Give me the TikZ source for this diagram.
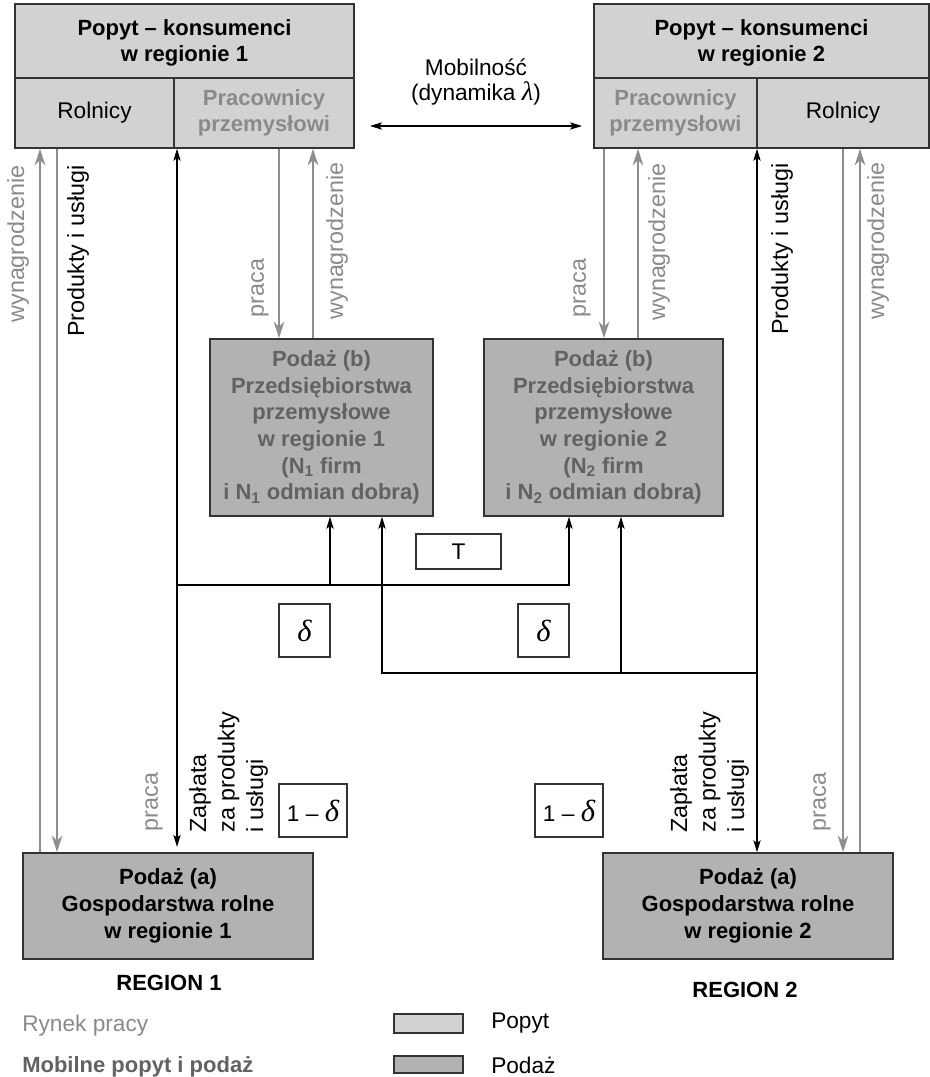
\documentclass[tikz,border=0pt]{standalone}
\usepackage{fontspec}
\setmainfont{Liberation Sans}
\newfontfamily\grkfont{Liberation Serif}
\usetikzlibrary{arrows.meta}
\definecolor{popytfill}{HTML}{D1D2D4}
\definecolor{podazfill}{HTML}{B1B2B4}
\definecolor{boxline}{HTML}{333333}
\definecolor{lgray}{HTML}{8A8A8A}
\definecolor{dgray}{HTML}{626264}
\definecolor{agray}{HTML}{8E8E8E}
\newcommand{\mydelta}{{\grkfont\itshape\fontsize{23}{23}\selectfont δ}}
\begin{document}
\begin{tikzpicture}[x=0.75pt,y=-0.75pt,
  popybox/.style={draw=boxline, fill=popytfill, line width=1.2pt, inner sep=0pt},
  podbox/.style={draw=boxline, fill=podazfill, line width=1.2pt, inner sep=0pt, font=\bfseries\fontsize{16.5}{20}\selectfont, align=center},
  smallbox/.style={draw=boxline, fill=white, line width=0.9pt, inner sep=0pt, font=\fontsize{17}{20}\selectfont},
  legbox/.style={draw=boxline, line width=0.9pt, inner sep=0pt, minimum width=51.75pt},
  txt/.style={inner sep=0pt, font=\fontsize{17}{19}\selectfont, align=center},
  btxt/.style={inner sep=0pt, font=\bfseries\fontsize{16.5}{19.5}\selectfont, align=center},
  vlab/.style={inner sep=0pt, rotate=90, font=\fontsize{17.5}{21.4}\selectfont},
  divider/.style={draw=boxline, line width=1.2pt},
  blk/.style={draw=black, line width=0.8pt},
  blkarrow/.style={blk, -{Stealth[length=9pt,width=5.5pt,inset=2pt]}},
  blkboth/.style={blk, {Stealth[length=9pt,width=5.5pt,inset=2pt]}-{Stealth[length=9pt,width=5.5pt,inset=2pt]}},
  garrow/.style={draw=agray, line width=1.3pt, -{Stealth[length=12.5pt,width=8pt,inset=4pt]}},
]
\useasboundingbox (0,0) rectangle (930,1077);

% top boxes
\node[popybox, minimum width=254.25pt, minimum height=108pt] (top1) at (184.5,76) {};
\draw[divider] (top1.west |- 0,78) -- (top1.east |- 0,78);
\draw[divider] (174,0 |- top1.south) -- (174,78);
\node[btxt] (t1title) at (184.5,43) {Popyt – konsumenci\\w regionie 1};
\node[txt] (t1rol) at (94.5,113) {Rolnicy};
\node[btxt, text=lgray] (t1prac) at (264,113) {Pracownicy\\przemysłowi};

\node[popybox, minimum width=251.25pt, minimum height=108pt] (top2) at (761.5,76) {};
\draw[divider] (top2.west |- 0,78) -- (top2.east |- 0,78);
\draw[divider] (757,0 |- top2.south) -- (757,78);
\node[btxt] (t2title) at (761.5,43) {Popyt – konsumenci\\w regionie 2};
\node[btxt, text=lgray] (t2prac) at (675.5,113) {Pracownicy\\przemysłowi};
\node[txt] (t2rol) at (843,113) {Rolnicy};

% mobility
\node[txt] (mob) at (476,82) {Mobilność\\(dynamika {\grkfont\itshape\fontsize{20}{19}\selectfont λ})};
\coordinate (mobL) at (370,126);
\coordinate (mobR) at (582,126);
\draw[blkboth] (mobL) -- (mobR);

% industry boxes
\node[podbox, text=dgray, minimum width=167.25pt, minimum height=132.75pt] (ind1) at (321.5,427.5)
  {Podaż (b)\\Przedsiębiorstwa\\przemysłowe\\w regionie 1\\(N\textsubscript{1} firm\\i N\textsubscript{1} odmian dobra)};
\node[podbox, text=dgray, minimum width=179.25pt, minimum height=132.75pt] (ind2) at (603.5,427.5)
  {Podaż (b)\\Przedsiębiorstwa\\przemysłowe\\w regionie 2\\(N\textsubscript{2} firm\\i N\textsubscript{2} odmian dobra)};

% farm boxes
\node[podbox, minimum width=217.5pt, minimum height=79.5pt] (farm1) at (168,906) {Podaż (a)\\Gospodarstwa rolne\\w regionie 1};
\node[podbox, minimum width=217.5pt, minimum height=79.5pt] (farm2) at (748,906) {Podaż (a)\\Gospodarstwa rolne\\w regionie 2};

% small boxes
\node[smallbox, minimum width=63.75pt, minimum height=26.25pt] (T) at (458.5,551.5) {T};
\node[smallbox, minimum width=38.25pt, minimum height=39.75pt] (d1) at (304.5,630.5) {\mydelta};
\node[smallbox, minimum width=38.25pt, minimum height=39.75pt] (d2) at (543.5,630.5) {\mydelta};
\node[smallbox, minimum width=51pt, minimum height=39.75pt] (omd1) at (313,810.5) {1 – \mydelta};
\node[smallbox, minimum width=51pt, minimum height=39.75pt] (omd2) at (569,810.5) {1 – \mydelta};

% vertical connectors, region 1
\draw[garrow] (40,0 |- farm1.north) -- (40,0 |- top1.south);
\draw[garrow] (57,0 |- top1.south) -- (57,0 |- farm1.north);
\draw[blkboth, shorten >=4pt] (177,0 |- top1.south) -- (177,0 |- farm1.north);
\draw[garrow] (279,0 |- top1.south) -- (279,0 |- ind1.north);
\draw[garrow] (313,0 |- ind1.north) -- (313,0 |- top1.south);

% vertical connectors, region 2
\draw[garrow] (604,0 |- top2.south) -- (604,0 |- ind2.north);
\draw[garrow] (638,0 |- ind2.north) -- (638,0 |- top2.south);
\draw[blkboth] (757,0 |- top2.south) -- (757,0 |- farm2.north);
\draw[garrow] (843,0 |- top2.south) -- (843,0 |- farm2.north);
\draw[garrow] (860,0 |- farm2.north) -- (860,0 |- top2.south);

% horizontal branches
\coordinate (j1) at (177,585);
\coordinate (j1b) at (330,585);
\coordinate (j2) at (757,673);
\coordinate (j2b) at (621,673);
\draw[blkarrow] (j1) -| (569,0 |- ind2.south);
\draw[blkarrow] (j1b) -- (330,0 |- ind1.south);
\draw[blkarrow] (j2) -| (382,0 |- ind1.south);
\draw[blkarrow] (j2b) -- (621,0 |- ind2.south);

% rotated labels
\node[vlab, text=lgray] (lw1) at (18,244) {wynagrodzenie};
\node[vlab] (lp1) at (78,251) {Produkty i usługi};
\node[vlab, text=lgray] (lpr1) at (260,288) {praca};
\node[vlab, text=lgray] (lw2) at (337,241) {wynagrodzenie};
\node[vlab, text=lgray] (lpr2) at (582,288) {praca};
\node[vlab, text=lgray] (lw3) at (659,242) {wynagrodzenie};
\node[vlab] (lp2) at (782,249) {Produkty i usługi};
\node[vlab, text=lgray] (lw4) at (878,241) {wynagrodzenie};

\node[vlab, text=lgray] (lpr3) at (154,802) {praca};
\node[vlab, align=left] (zap1) at (228.5,772) {Zapłata\\za produkty\\i usługi};
\node[vlab, text=lgray] (lpr4) at (822,802) {praca};
\node[vlab, align=left] (zap2) at (709.5,772) {Zapłata\\za produkty\\i usługi};

% region labels
\node[btxt] (reg1) at (169,983) {REGION 1};
\node[btxt] (reg2) at (745,990) {REGION 2};

% legend
\node[txt, anchor=west, text=lgray] (leg1) at (22,1026) {Rynek pracy};
\node[btxt, anchor=west, text=dgray] (leg2) at (22,1067) {Mobilne popyt i podaż};
\node[legbox, fill=popytfill, minimum height=14.25pt] (lgp) at (428.5,1023.5) {};
\node[legbox, fill=podazfill, minimum height=12.75pt] (lgd) at (428.5,1064.5) {};
\node[txt, anchor=west] (lgpt) at (491,1023) {Popyt};
\node[txt, anchor=west] (lgdt) at (491,1065) {Podaż};
\end{tikzpicture}
\end{document}
